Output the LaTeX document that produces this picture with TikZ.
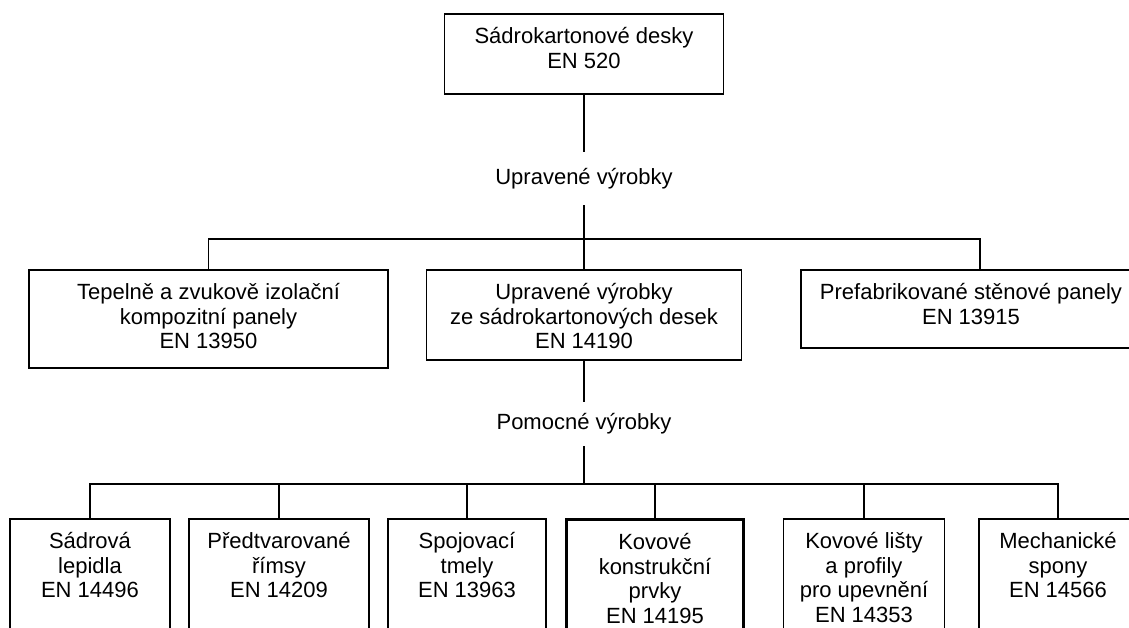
\documentclass[tikz,border=0pt]{standalone}
\usepackage{fontspec}
\setmainfont{Liberation Sans}
\newcommand{\boxtxt}[3]{\parbox[c][#2][t]{#1}{\centering\rule{0pt}{30pt}#3}}
\tikzset{
 boxnode/.style={draw, line width=1.6pt, inner sep=0pt, anchor=north, font=\fontsize{22pt}{24.5pt}\selectfont},
 thickbox/.style={boxnode, line width=3.4pt},
 lbl/.style={inner sep=0pt, font=\fontsize{22pt}{24.5pt}\selectfont},
 conn/.style={line width=1.7pt},
}
\begin{document}
\begin{tikzpicture}[x=1pt,y=-1pt]
\useasboundingbox (0,0) rectangle (1129,628);
\clip (0,0) rectangle (1129,628);
% top
\node[boxnode] (t) at (584,13) {\boxtxt{279pt}{80pt}{Sádrokartonové desky\\EN 520}};
\node[lbl, minimum height=53pt] (u) at (584,178.5) {Upravené výrobky};
% middle row
\node[boxnode] (m1) at (208.5,269) {\boxtxt{359pt}{98pt}{Tepelně a zvukově izolační\\kompozitní panely\\EN 13950}};
\node[boxnode] (m2) at (584,269) {\boxtxt{315pt}{90pt}{Upravené výrobky\\ze sádrokartonových desek\\EN 14190}};
\node[boxnode] (m3) at (971,269) {\boxtxt{340pt}{78pt}{Prefabrikované stěnové panely\\EN 13915}};
\node[lbl, minimum height=44pt] (p) at (584,424) {Pomocné výrobky};
% bottom row
\node[boxnode] (b1) at (90,518) {\boxtxt{160pt}{132pt}{Sádrová\\lepidla\\EN 14496}};
\node[boxnode] (b2) at (279,518) {\boxtxt{180pt}{132pt}{Předtvarované\\římsy\\EN 14209}};
\node[boxnode] (b3) at (467,518) {\boxtxt{158pt}{132pt}{Spojovací\\tmely\\EN 13963}};
\node[thickbox] (b4) at (655,518) {\boxtxt{177pt}{132pt}{Kovové\\konstrukční\\prvky\\EN 14195}};
\node[boxnode] (b5) at (864,518) {\boxtxt{161pt}{132pt}{Kovové lišty\\a profily\\pro upevnění\\EN 14353}};
\node[boxnode] (b6) at (1058,518) {\boxtxt{158pt}{132pt}{Mechanické\\spony\\EN 14566}};
% connectors
\coordinate (j1) at (584,239);
\coordinate (j2) at (584,484);
\draw[conn] (t.south) -- (u.north);
\draw[conn] (u.south) -- (j1);
\draw[conn] (m1.north) |- (j1) -| ([xshift=9pt]m3.north);
\draw[conn] (j1) -- (m2.north);
\draw[conn] (m2.south) -- (p.north);
\draw[conn] (p.south) -- (j2);
\draw[conn] (b1.north) |- (j2) -| (b6.north);
\foreach \n in {b2,b3,b4,b5} \draw[conn] (\n.north) -- (\n.north |- j2);
\end{tikzpicture}
\end{document}
